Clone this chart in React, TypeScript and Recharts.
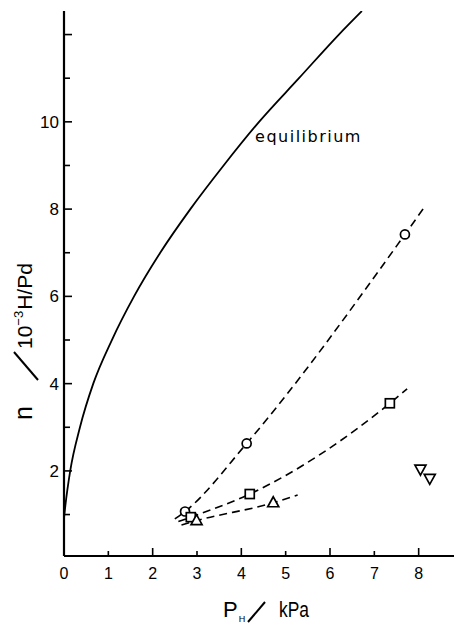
import React from 'react';
import { ComposedChart, Line, Scatter, XAxis, YAxis, ReferenceDot, Label } from 'recharts';

// equilibrium curve
const eqP = [0, 0.03, 0.14, 0.36, 0.66, 1.08, 1.58, 2.17, 2.85, 3.6, 4.4, 5.3, 6.2, 6.72];
const eqN = [0.92, 1.2, 2, 3, 4, 5, 6, 7, 8, 9, 10, 11, 12, 12.54];

// circles
const circP = [2.73, 4.12, 7.69];
const circN = [1.07, 2.63, 7.42];
const circFitP = [2.5, 2.73, 4.12, 7.69, 8.14];
const circFitN = [0.9, 1.07, 2.63, 7.42, 8.06];

// squares
const sqP = [2.86, 4.19, 7.35];
const sqN = [0.94, 1.47, 3.55];
const sqFitP = [2.58, 2.86, 4.19, 7.35, 7.74];
const sqFitN = [0.84, 0.94, 1.47, 3.55, 3.88];

// triangles
const triP = [2.99, 4.72];
const triN = [0.86, 1.27];
const triFitP = [2.65, 2.99, 4.72, 5.27];
const triFitN = [0.76, 0.86, 1.27, 1.45];

// inverted triangles
const invP = [8.04, 8.25];
const invN = [2.04, 1.83];

const xTicks = [0, 1, 2, 3, 4, 5, 6, 7, 8, 9];
const xLabels = [0, 1, 2, 3, 4, 5, 6, 7, 8];
const yTicks = [1, 2, 3, 4, 5, 6, 7, 8, 9, 10, 11, 12];
const yLabels = [2, 4, 6, 8, 10];

const eqLabelP = 4.31;
const eqLabelN = 9.53;

const rows = (ps: number[], ns: number[]) => ps.map((p, i) => ({ p, n: ns[i] }));

const FONT = '"Liberation Sans", Arial, sans-serif';
const K = '#000';

const XTick = (props: any) => {
  const { x, y, payload } = props;
  const v = payload.value;
  const ay = y - 12;
  const len = v % 2 === 0 ? 8 : 5;
  return (
    <g>
      {v > 0 && <line x1={x} x2={x} y1={ay} y2={ay - len} stroke={K} strokeWidth={1.6} />}
      {xLabels.includes(v) && (
        <text x={x} y={y} dy="0.71em" textAnchor="middle" fontFamily={FONT} fontSize={16} fill={K}>
          {v}
        </text>
      )}
    </g>
  );
};

const YTick = (props: any) => {
  const { x, y, payload } = props;
  const v = payload.value;
  const ax = x + 5;
  const len = v % 2 === 0 ? 8 : 6;
  return (
    <g>
      <line x1={ax} x2={ax + len} y1={y} y2={y} stroke={K} strokeWidth={1.6} />
      {yLabels.includes(v) && (
        <text x={x} y={y} dy="0.36em" textAnchor="end" fontFamily={FONT} fontSize={17} fill={K}>
          {v}
        </text>
      )}
    </g>
  );
};

const YLabel = (props: any) => {
  const vb = props.viewBox || { x: 0, y: 11, width: 64, height: 545 };
  const tx = vb.x + 32;
  const ty = vb.y + 409;
  return (
    <g transform={`translate(${tx},${ty}) rotate(-90)`} fontFamily={FONT} fill={K}>
      <text x={0} y={0} fontSize={25}>n</text>
      <line x1={40} y1={6} x2={68} y2={-18} stroke={K} strokeWidth={2} />
      <text x={71} y={0} fontSize={21}>
        10<tspan dy={-9} fontSize={13}>−3</tspan>
        <tspan dy={9} dx={1}>H/Pd</tspan>
      </text>
    </g>
  );
};

const XLabel = (props: any) => {
  const vb = props.viewBox || { x: 64, y: 556, width: 399, height: 67 };
  const bx = vb.x + 159;
  const by = vb.y + 61;
  return (
    <g fontFamily={FONT} fill={K}>
      <text x={bx} y={by} fontSize={22}>
        P<tspan dy={5} dx={1} fontSize={9}>H</tspan>
      </text>
      <line x1={bx + 25} y1={by + 5} x2={bx + 42} y2={by - 15} stroke={K} strokeWidth={2} />
      <text x={bx + 56} y={by} fontSize={22} textLength={30} lengthAdjust="spacingAndGlyphs">kPa</text>
    </g>
  );
};

const EqLabel = (props: any) => {
  const vb = props.viewBox;
  return (
    <text x={vb.x} y={vb.y} fontFamily={'"DejaVu Sans", sans-serif'} fontSize={16} letterSpacing={1.5} fill={K}>
      equilibrium
    </text>
  );
};

const circleShape = (p: any) => (
  <circle cx={p.cx} cy={p.cy} r={4.5} fill="#fff" stroke={K} strokeWidth={1.7} />
);
const squareShape = (p: any) => (
  <rect x={p.cx - 4.5} y={p.cy - 4.5} width={9} height={9} fill="#fff" stroke={K} strokeWidth={1.7} />
);
const triShape = (p: any) => (
  <polygon
    points={`${p.cx},${p.cy - 6} ${p.cx - 5.5},${p.cy + 4} ${p.cx + 5.5},${p.cy + 4}`}
    fill="#fff"
    stroke={K}
    strokeWidth={1.7}
  />
);
const invTriShape = (p: any) => (
  <polygon
    points={`${p.cx},${p.cy + 6} ${p.cx - 5.5},${p.cy - 4} ${p.cx + 5.5},${p.cy - 4}`}
    fill="#fff"
    stroke={K}
    strokeWidth={1.7}
  />
);

export default function App() {
  return (
    <div
      style={{
        position: 'absolute',
        left: 0,
        top: 0,
        width: 454,
        height: 623,
        overflow: 'hidden',
        background: '#fff',
      }}
    >
      <ComposedChart width={463} height={623} margin={{ top: 11, right: 0, left: 0, bottom: 0 }}>
        <XAxis
          type="number"
          dataKey="p"
          domain={[0, 9]}
          ticks={xTicks}
          interval={0}
          allowDataOverflow
          tick={XTick}
          tickLine={false}
          tickSize={0}
          tickMargin={12}
          height={67}
          axisLine={{ stroke: K, strokeWidth: 2.2 }}
        >
          <Label content={XLabel} />
        </XAxis>
        <XAxis
          xAxisId="top"
          orientation="top"
          type="number"
          domain={[0, 9]}
          height={0}
          tick={false}
          tickLine={false}
          axisLine={{ stroke: K, strokeWidth: 2.2 }}
        />
        <YAxis
          type="number"
          dataKey="n"
          domain={[0.05, 12.54]}
          ticks={yTicks}
          interval={0}
          allowDataOverflow
          width={64}
          tick={YTick}
          tickLine={false}
          tickSize={0}
          tickMargin={5}
          axisLine={{ stroke: K, strokeWidth: 2.2 }}
        >
          <Label content={YLabel} />
        </YAxis>

        <Line data={rows(eqP, eqN)} dataKey="n" type="monotone" stroke={K} strokeWidth={1.8} dot={false} isAnimationActive={false} />
        <Line data={rows(circFitP, circFitN)} dataKey="n" type="monotone" stroke={K} strokeWidth={1.6} strokeDasharray="8 5" dot={false} isAnimationActive={false} />
        <Line data={rows(sqFitP, sqFitN)} dataKey="n" type="monotone" stroke={K} strokeWidth={1.6} strokeDasharray="8 5" dot={false} isAnimationActive={false} />
        <Line data={rows(triFitP, triFitN)} dataKey="n" type="monotone" stroke={K} strokeWidth={1.6} strokeDasharray="8 5" dot={false} isAnimationActive={false} />

        <Scatter data={rows(circP, circN)} shape={circleShape} isAnimationActive={false} />
        <Scatter data={rows(sqP, sqN)} shape={squareShape} isAnimationActive={false} />
        <Scatter data={rows(triP, triN)} shape={triShape} isAnimationActive={false} />
        <Scatter data={rows(invP, invN)} shape={invTriShape} isAnimationActive={false} />

        <ReferenceDot x={eqLabelP} y={eqLabelN} r={0} stroke="none" fill="none" label={EqLabel} />
      </ComposedChart>
    </div>
  );
}
